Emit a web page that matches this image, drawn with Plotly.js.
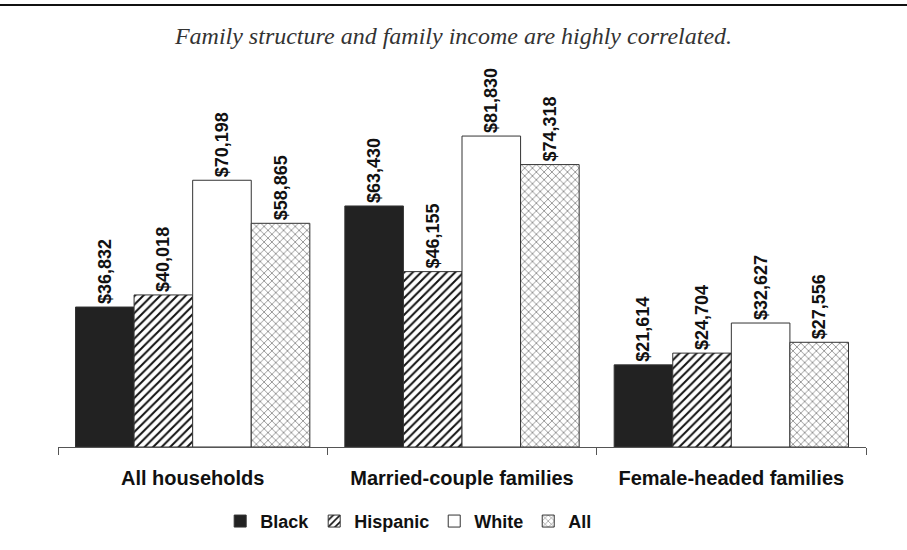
<!DOCTYPE html>
<html><head><meta charset="utf-8">
<script src="https://cdn.plot.ly/plotly-3.0.1.min.js"></script>
<style>html,body{margin:0;padding:0;background:#fff}</style>
</head><body><div id="chart" style="width:907px;height:550px"></div>
<script>
var categories = ["All households", "Married-couple families", "Female-headed families"];
var black = [36832, 63430, 21614];
var hispanic = [40018, 46155, 24704];
var white = [70198, 81830, 32627];
var all = [58865, 74318, 27556];
var seriesNames = ["Black", "Hispanic", "White", "All"];

function fmt(v){ return "$" + v.toLocaleString("en-US"); }
var lab = {family: "Liberation Sans, Arial, sans-serif", size: 18, color: "#111", weight: "bold"};
function mk(name, vals, color, pattern){
  return {type: "bar", name: name, x: categories, y: vals,
    text: vals.map(fmt), textposition: "outside", textangle: -90, constraintext: "none",
    textfont: lab, cliponaxis: false, hoverinfo: "skip",
    marker: {color: color, line: {color: "#333", width: 1}, pattern: pattern}};
}
var data = [
  mk(seriesNames[0], black, "#222222", {shape: ""}),
  mk(seriesNames[1], hispanic, "#ffffff", {shape: "/", fgcolor: "#111", bgcolor: "#fff", size: 6, solidity: 0.33}),
  mk(seriesNames[2], white, "#ffffff", {shape: ""}),
  mk(seriesNames[3], all, "#ffffff", {shape: "x", fgcolor: "#777", bgcolor: "#fff", size: 5.5, solidity: 0.25})
];
var layout = {
  width: 907, height: 550,
  margin: {l: 58, r: 41, t: 67, b: 103, autoexpand: false},
  paper_bgcolor: "#fff", plot_bgcolor: "#fff",
  barmode: "group", bargap: 0.13, bargroupgap: 0,
  showlegend: true,
  legend: {orientation: "h", x: 0.434, xanchor: "center", y: -0.147, yanchor: "top",
    font: {family: "Liberation Sans, Arial, sans-serif", size: 18, color: "#111", weight: "bold"},
    itemwidth: 30, tracegroupgap: 0},
  title: {text: "Family structure and family income are highly correlated.",
    font: {family: "Liberation Serif, Times New Roman, serif", size: 24, color: "#333", style: "italic"},
    x: 0.5, xanchor: "center", y: 0.935, yanchor: "middle"},
  xaxis: {showline: true, linecolor: "#555", linewidth: 1, ticks: "outside", tickson: "boundaries",
    ticklen: 7, tickcolor: "#555", showgrid: false, zeroline: false, automargin: false,
    ticklabelstandoff: 13,
    tickfont: {family: "Liberation Sans, Arial, sans-serif", size: 20, color: "#111", weight: "bold"}},
  yaxis: {range: [0, 100000], visible: false, showgrid: false, zeroline: false, automargin: false},
  shapes: [{type: "line", xref: "paper", yref: "paper", x0: -0.08, x1: 1.06, y0: 1.163, y1: 1.163,
    line: {color: "#111", width: 2}}]
};
Plotly.newPlot("chart", data, layout, {displayModeBar: false, staticPlot: true});
</script></body></html>
